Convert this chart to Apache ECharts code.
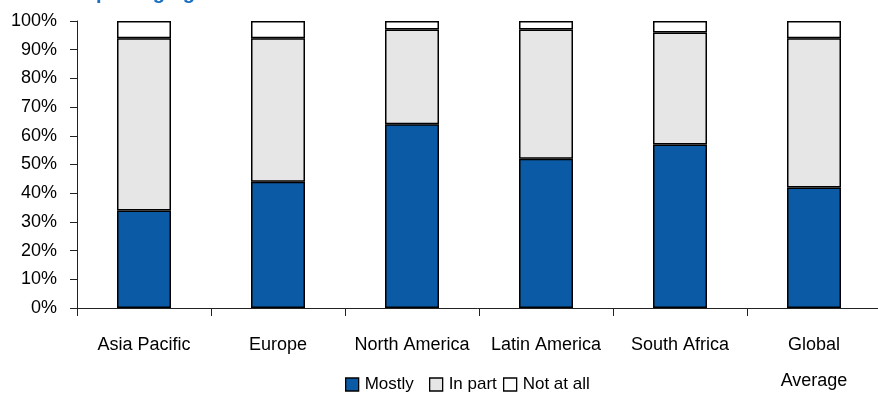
<!DOCTYPE html>
<html>
<head>
<meta charset="utf-8">
<script src="https://cdn.jsdelivr.net/npm/echarts@6/dist/echarts.min.js"></script>
<style>
  html, body { margin: 0; padding: 0; background: #fff; }
  #chart { width: 878px; height: 396px; }
</style>
</head>
<body>
<div id="chart"></div>
<script>
// Regions surveyed and the share answering in each bucket (percent)
const regions = ['Asia Pacific', 'Europe', 'North America', 'Latin America', 'South Africa', 'Global\nAverage'];
const mostly = [34, 44, 64, 52, 57, 42];
const inPart = [60, 50, 33, 45, 39, 52];
const notAtAll = [6, 6, 3, 3, 4, 6];
const seriesNames = ['Mostly', 'In part', 'Not at all'];
const titleText = 'packaging';

const FONT = '"Liberation Sans", Arial, sans-serif';
const colors = ['#0b5aa5', '#e6e6e6', '#ffffff'];
const values = [mostly, inPart, notAtAll];
const legendLeft = [340, 424, 498];

const chart = echarts.init(document.getElementById('chart'), null, { renderer: 'canvas' });

chart.setOption({
  animation: false,
  backgroundColor: '#ffffff',
  textStyle: { fontFamily: FONT },
  graphic: [{
    type: 'text',
    left: 96,
    top: -17,
    style: {
      text: titleText,
      fill: '#1a6fc0',
      font: 'bold 20px ' + FONT
    }
  }],
  grid: {
    left: 77, top: 21, width: 804, bottom: 88,
    containLabel: false,
    outerBoundsMode: 'none'
  },
  // one legend block per series so each entry sits at its own spot
  legend: seriesNames.map((name, i) => ({
    data: [name],
    left: legendLeft[i],
    top: 371,
    itemWidth: 13,
    itemHeight: 13,
    icon: 'rect',
    textStyle: { fontFamily: FONT, fontSize: 17, color: '#000', padding: [0, 0, 0, 1] },
    itemStyle: { borderColor: '#000', borderWidth: 1.3 }
  })),
  xAxis: {
    type: 'category',
    data: regions,
    axisLine: { lineStyle: { color: '#222', width: 1 } },
    axisTick: { show: true, length: 8, alignWithLabel: false, lineStyle: { color: '#222' } },
    axisLabel: {
      interval: 0,
      margin: 19,
      fontFamily: FONT,
      fontSize: 18,
      lineHeight: 36,
      color: '#000'
    }
  },
  yAxis: {
    type: 'value',
    min: 0,
    max: 100,
    interval: 10,
    splitLine: { show: false },
    axisLine: { show: true, lineStyle: { color: '#222', width: 1 } },
    axisTick: { show: true, length: 7, lineStyle: { color: '#222' } },
    axisLabel: {
      margin: 20,
      fontFamily: FONT,
      fontSize: 18,
      color: '#000',
      formatter: '{value}%'
    }
  },
  series: seriesNames.map((name, i) => ({
    name: name,
    type: 'bar',
    stack: 'total',
    barWidth: 54,
    data: values[i],
    itemStyle: { color: colors[i], borderColor: '#000', borderWidth: 1.5 }
  }))
});
</script>
</body>
</html>
